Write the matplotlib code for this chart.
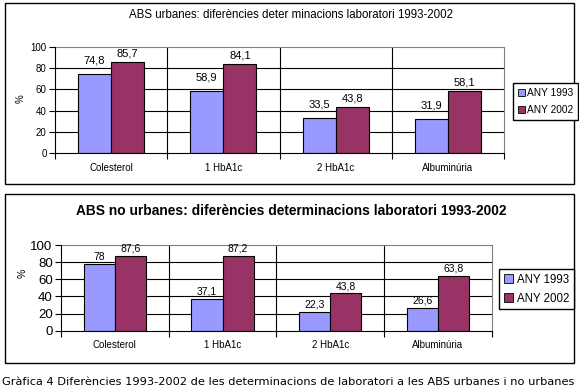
import matplotlib.pyplot as plt
from matplotlib.patches import Rectangle, Patch
import numpy as np

categories = ['Colesterol', '1 HbA1c', '2 HbA1c', 'Albuminúria']
series = ['ANY 1993', 'ANY 2002']
urban_1993 = [74.8, 58.9, 33.5, 31.9]
urban_2002 = [85.7, 84.1, 43.8, 58.1]
rural_1993 = [78, 37.1, 22.3, 26.6]
rural_2002 = [87.6, 87.2, 43.8, 63.8]
yticks = [0, 20, 40, 60, 80, 100]

title_top = 'ABS urbanes: diferències deter minacions laboratori 1993-2002'
title_bottom = 'ABS no urbanes: diferències determinacions laboratori 1993-2002'
caption = 'Gràfica 4 Diferències 1993-2002 de les determinacions de laboratori a les ABS urbanes i no urbanes'

colors = ['#9999FF', '#993366']
W, H = 579, 390

plt.rcParams['font.family'] = ['Liberation Sans', 'DejaVu Sans']


def fmt(v):
    return f'{v:g}'.replace('.', ',')


def px_axes(fig, x0, y0, x1, y1):
    return fig.add_axes([x0 / W, 1 - y1 / H, (x1 - x0) / W, (y1 - y0) / H])


def draw_panel(ax, a, b, width, tick_fs, cat_fs, lab_fs, offs):
    x = np.arange(len(categories))
    for i, (vals, off) in enumerate(zip([a, b], offs)):
        pos = x + (i - 0.5) * width
        ax.bar(pos, vals, width, color=colors[i], edgecolor='black', linewidth=0.8, zorder=3)
        for p, v in zip(pos, vals):
            ax.annotate(fmt(v), (p, v), xytext=(0, off), textcoords='offset points',
                        ha='center', va='bottom', fontsize=lab_fs, zorder=4)
    ax.set_xlim(-0.5, len(categories) - 0.5)
    ax.set_ylim(0, 100)
    ax.set_yticks(yticks)
    ax.tick_params(axis='y', labelsize=tick_fs, length=4, width=0.8, pad=2)
    ax.set_xticks(x)
    ax.set_xticklabels(categories, fontsize=cat_fs)
    ax.tick_params(axis='x', which='major', length=0, pad=7)
    ax.set_xticks(np.arange(len(categories) + 1) - 0.5, minor=True)
    ax.tick_params(axis='x', which='minor', length=4, width=0.8)
    for yv in yticks[1:-1]:
        ax.axhline(yv, color='black', lw=0.8, zorder=1)
    for xv in np.arange(1, len(categories)) - 0.5:
        ax.axvline(xv, color='black', lw=0.8, zorder=1)
    for s in ['top', 'right']:
        ax.spines[s].set_color('#808080')
    for s in ['left', 'bottom']:
        ax.spines[s].set_color('black')
        ax.spines[s].set_zorder(5)


fig = plt.figure(figsize=(W / 100, H / 100), dpi=100)

# outer frames
for (y0, y1) in [(3, 184.3), (194.3, 363.3)]:
    fig.add_artist(Rectangle((4.5 / W, 1 - y1 / H), (574 - 4.5) / W, (y1 - y0) / H,
                             transform=fig.transFigure, fill=False, edgecolor='black', lw=1))

handles = [Patch(facecolor=c, edgecolor='black', lw=0.6) for c in colors]

# top panel
ax1 = px_axes(fig, 55, 46.7, 504, 153.3)
draw_panel(ax1, urban_1993, urban_2002, 0.295, 7, 7, 8, (6, 2.5))
fig.text(291 / W, 1 - 15 / H, title_top, ha='center', va='center', fontsize=8.3)
fig.text(21 / W, 1 - 99 / H, '%', rotation=90, ha='center', va='center', fontsize=7)
fig.legend(handles, series, loc='upper left', bbox_to_anchor=(513 / W, 1 - 83.3 / H),
           fontsize=7.3, frameon=True, fancybox=False, edgecolor='black', framealpha=1,
           handlelength=0.7, handleheight=0.7, handletextpad=0.25, borderpad=0.45,
           labelspacing=0.75, borderaxespad=0)

# bottom panel
ax2 = px_axes(fig, 61, 245, 491.7, 330.7)
draw_panel(ax2, rural_1993, rural_2002, 0.29, 9.5, 7, 7.5, (1.5, 1.5))
fig.text(291 / W, 1 - 211 / H, title_bottom, ha='center', va='center', fontsize=9.9,
         fontweight='bold')
fig.text(23 / W, 1 - 273 / H, '%', rotation=90, ha='center', va='center', fontsize=7.5)
fig.legend(handles, series, loc='upper left', bbox_to_anchor=(499.3 / W, 1 - 269 / H),
           fontsize=8.3, frameon=True, fancybox=False, edgecolor='black', framealpha=1,
           handlelength=0.8, handleheight=0.8, handletextpad=0.3, borderpad=0.4,
           labelspacing=0.6, borderaxespad=0)

fig.text(2 / W, 1 - 382 / H, caption, ha='left', va='center', fontsize=8.2,
         family='DejaVu Sans')

fig.savefig('out.png', dpi=100)
